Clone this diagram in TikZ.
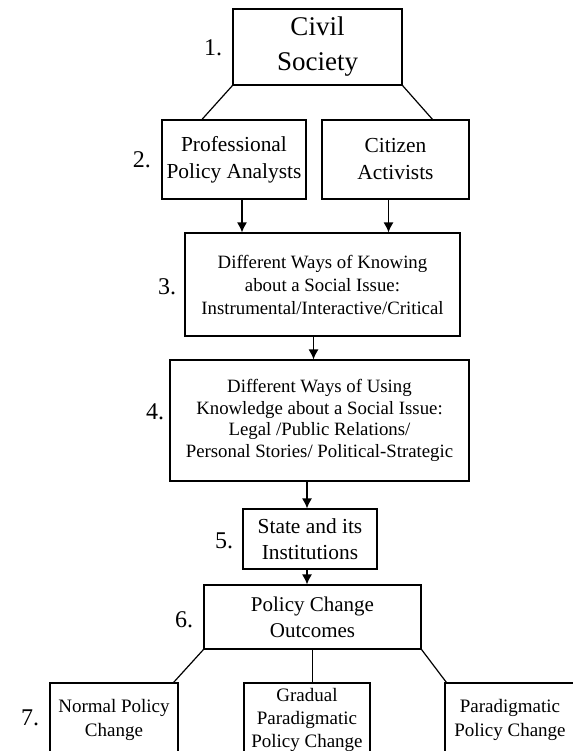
\documentclass[tikz,border=0pt]{standalone}
\usepackage{fontspec}
\setmainfont{Liberation Serif}
\usetikzlibrary{arrows.meta}

\begin{document}
\begin{tikzpicture}
[x=0.5pt, y=-0.5pt, line width=0.6pt,
 box/.style={draw, align=center, inner sep=0pt},
 num/.style={font=\fontsize{12}{14}\selectfont},
 arr/.style={-{Latex[length=5pt,width=5pt]}}]
\useasboundingbox (0,0) rectangle (573,751);
% levels 1 to 6
\node[box, minimum width=84.5pt, minimum height=38pt, font=\fontsize{13.5}{17.5}\selectfont] (civil) at (317.5,47) {Civil\\Society};
\node[box, minimum width=72pt, minimum height=39.5pt, font=\fontsize{10.7}{13.5}\selectfont] (analysts) at (234,159.5) {Professional\\Policy Analysts};
\node[box, minimum width=73.5pt, minimum height=39.5pt, font=\fontsize{10.7}{13.5}\selectfont] (activists) at (395.5,159.5) {Citizen\\Activists};
\node[box, minimum width=137.5pt, minimum height=51.5pt, font=\fontsize{9.4}{11.5}\selectfont] (knowing) at (322.5,284.5) {Different Ways of Knowing\\about a Social Issue:\\Instrumental/Interactive/Critical};
\node[box, minimum width=149.5pt, minimum height=60.5pt, font=\fontsize{9.4}{10.8}\selectfont] (using) at (319.5,420.5) {Different Ways of Using\\Knowledge about a Social Issue:\\Legal /Public Relations/\\Personal Stories/ Political-Strategic};
\node[box, minimum width=67pt, minimum height=30pt, font=\fontsize{10.7}{13}\selectfont] (state) at (310,539) {State and its\\Institutions};
\node[box, minimum width=108.5pt, minimum height=32pt, font=\fontsize{10.5}{13}\selectfont] (outcomes) at (312.5,617) {Policy Change\\Outcomes};
% level 7, cut off at the bottom
\node[box, minimum width=64pt, minimum height=37pt, font=\fontsize{9.5}{12}\selectfont] (normal) at (114,720) {Normal Policy\\Change};
\node[box, minimum width=63pt, minimum height=37pt, font=\fontsize{9.5}{11.5}\selectfont] (gradual) at (307,720) {Gradual\\Paradigmatic\\Policy Change};
\node[box, minimum width=65pt, minimum height=37pt, font=\fontsize{9.5}{12}\selectfont] (paradigm) at (510,720) {Paradigmatic\\Policy Change};
% numbers
\node[num] (n1) at (213,48) {1.};
\node[num] (n2) at (142,160) {2.};
\node[num] (n3) at (167,287) {3.};
\node[num] (n4) at (155,412) {4.};
\node[num] (n5) at (224,541) {5.};
\node[num] (n6) at (184,620) {6.};
\node[num] (n7) at (30,718) {7.};
% connectors
\draw (civil.south west) -- ([xshift=-16pt]analysts.north);
\draw (civil.south east) -- ([xshift=18.5pt]activists.north);
\draw[arr] ([xshift=4pt]analysts.south) -- ([xshift=4pt]analysts.south |- knowing.north);
\draw[arr] ([xshift=-3.5pt]activists.south) -- ([xshift=-3.5pt]activists.south |- knowing.north);
\draw[arr] ([xshift=-4.5pt]knowing.south) -- ([xshift=-4.5pt]knowing.south |- using.north);
\draw[arr] ([xshift=-1.5pt]state.north |- using.south) -- ([xshift=-1.5pt]state.north);
\draw[arr] ([xshift=-1.5pt]state.south) -- ([xshift=-1.5pt]state.south |- outcomes.north);
\draw (outcomes.south west) -- ([xshift=-2.5pt]normal.north east);
\draw (outcomes.south) -- (outcomes.south |- gradual.north);
\draw (outcomes.south east) -- ([xshift=1pt]paradigm.north west);
\end{tikzpicture}
\end{document}
